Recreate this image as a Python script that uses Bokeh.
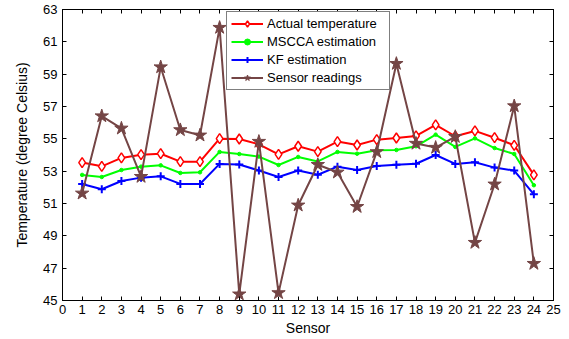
from bokeh.plotting import figure
from bokeh.models import FixedTicker, LinearAxis, Range1d, Legend, LegendItem
from bokeh.embed import file_html
from bokeh.resources import INLINE

sensors = list(range(1, 25))
actual = [53.53, 53.30, 53.82, 54.02, 54.08, 53.59, 53.59, 55.01, 54.99, 54.66, 54.04, 54.54,
          54.21, 54.83, 54.62, 54.95, 55.05, 55.18, 55.86, 55.16, 55.49, 55.07, 54.60, 52.77]
mscca = [52.77, 52.64, 53.07, 53.28, 53.36, 52.89, 52.93, 54.19, 54.06, 53.90, 53.38, 53.88,
         53.60, 54.19, 54.08, 54.29, 54.31, 54.54, 55.26, 54.50, 55.03, 54.43, 54.06, 52.13]
kf = [52.21, 51.88, 52.39, 52.60, 52.68, 52.21, 52.21, 53.45, 53.41, 53.04, 52.64, 53.04,
      52.78, 53.28, 53.07, 53.32, 53.40, 53.46, 54.00, 53.45, 53.55, 53.22, 53.04, 51.57]
readings = [51.63, 56.41, 55.65, 52.66, 59.44, 55.55, 55.22, 61.88, 45.39, 54.83, 45.47, 50.89,
            53.40, 52.93, 50.80, 54.19, 59.65, 54.71, 54.46, 55.13, 48.58, 52.19, 57.03, 47.28]
x_ticks = list(range(0, 26))
y_ticks = list(range(45, 64, 2))

FONT = "Liberation Sans"

p = figure(width=569, height=339, output_backend="svg", toolbar_location=None,
           x_range=Range1d(0, 25), y_range=Range1d(45, 63),
           min_border_left=62, min_border_right=16, min_border_top=9, min_border_bottom=39)
p.xgrid.visible = False
p.ygrid.visible = False
p.outline_line_color = "black"
p.outline_line_width = 1

for ax, ticks in ((p.xaxis[0], x_ticks), (p.yaxis[0], y_ticks)):
    ax.ticker = FixedTicker(ticks=ticks)
    ax.minor_tick_line_color = None
    ax.major_tick_in = 4
    ax.major_tick_out = 0
    ax.major_label_text_font = FONT
    ax.major_label_text_font_size = "13px"
    ax.major_label_text_color = "black"
    ax.axis_line_color = "black"
    ax.axis_label_text_font = FONT
    ax.axis_label_text_font_size = "14px"
    ax.axis_label_text_font_style = "normal"
    ax.axis_label_text_color = "black"

p.xaxis.axis_label = "Sensor"
p.yaxis.axis_label = "Temperature (degree Celsius)"
p.xaxis.major_label_standoff = 4
p.xaxis.axis_label_standoff = 3
p.yaxis.major_label_standoff = 5
p.yaxis.axis_label_standoff = 10

for loc, ticks in (("above", x_ticks), ("right", y_ticks)):
    ax = LinearAxis(ticker=FixedTicker(ticks=ticks), major_tick_in=4, major_tick_out=0,
                    minor_tick_line_color=None, major_label_text_color=None,
                    major_label_text_font_size="1px", major_label_standoff=0,
                    axis_line_color="black")
    p.add_layout(ax, loc)

brown = "#744545"
r1 = p.line(sensors, actual, line_color="red", line_width=2)
m1 = p.scatter(sensors, actual, marker="diamond", size=10, line_color="red", fill_color="white", line_width=1.5)
r2 = p.line(sensors, mscca, line_color="#00ff00", line_width=2)
m2 = p.scatter(sensors, mscca, marker="circle", size=3.5, line_color="#00ff00", fill_color="#00ff00")
r3 = p.line(sensors, kf, line_color="blue", line_width=2)
m3 = p.scatter(sensors, kf, marker="cross", size=8, line_color="blue", line_width=2)
r4 = p.line(sensors, readings, line_color=brown, line_width=2)
m4 = p.scatter(sensors, readings, marker="star", size=14, line_color=brown, fill_color=brown)

legend = Legend(items=[
    LegendItem(label="Actual temperature", renderers=[r1, m1]),
    LegendItem(label="MSCCA estimation", renderers=[r2, m2]),
    LegendItem(label="KF estimation", renderers=[r3, m3]),
    LegendItem(label="Sensor readings", renderers=[r4, m4]),
], location=(164, 210))
legend.border_line_color = "black"
legend.border_line_width = 1
legend.label_text_font = FONT
legend.label_text_font_size = "13px"
legend.label_text_color = "black"
legend.glyph_width = 32
legend.glyph_height = 15
legend.label_height = 15
legend.label_width = 118
legend.label_standoff = 4
legend.spacing = 3
legend.padding = 4
legend.margin = 0
legend.background_fill_alpha = 1
p.add_layout(legend, "center")

open("out.html", "w").write(file_html(p, INLINE))
